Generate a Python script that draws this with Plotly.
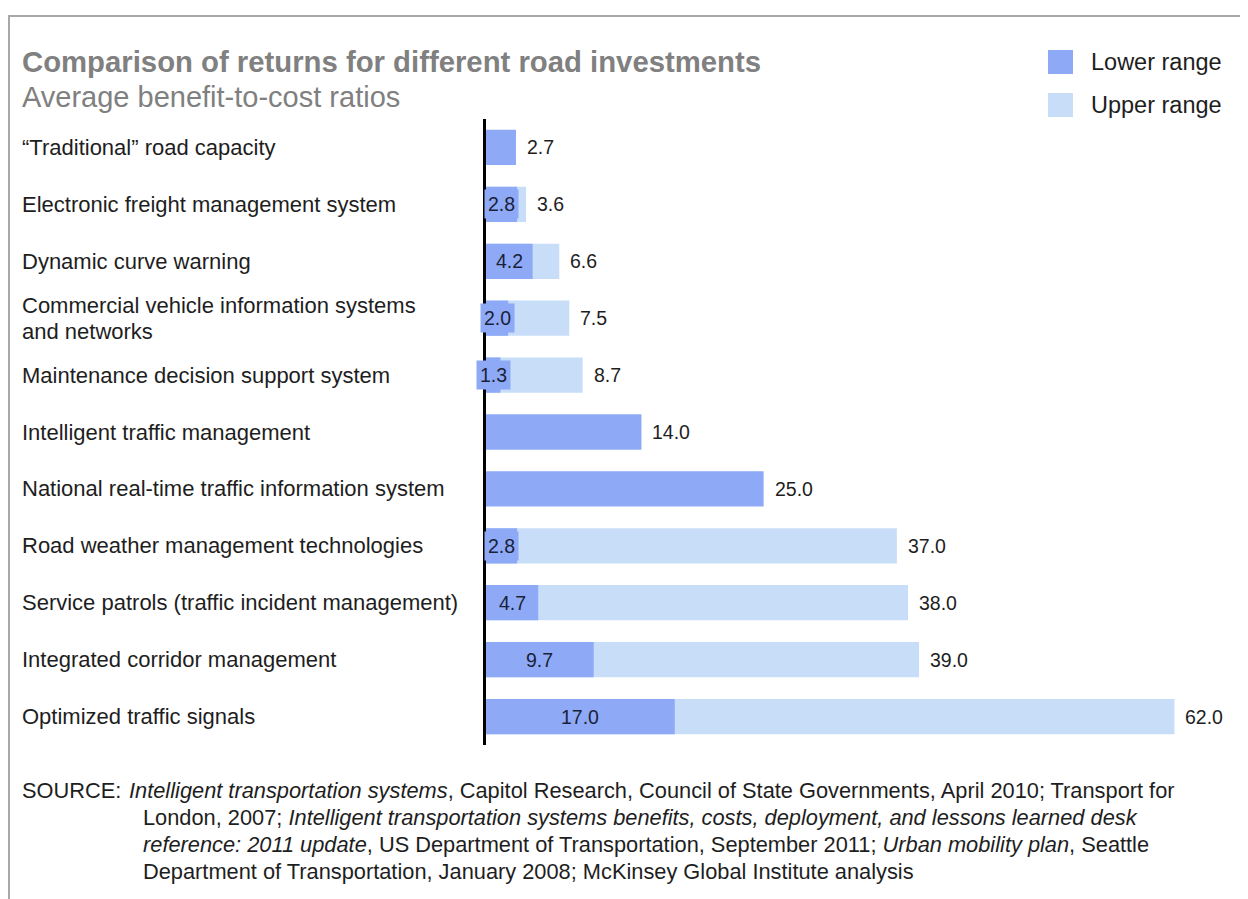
import plotly.graph_objects as go

# ---- data ----
categories = [
    "\u201cTraditional\u201d road capacity",
    "Electronic freight management system",
    "Dynamic curve warning",
    "Commercial vehicle information systems<br>and networks",
    "Maintenance decision support system",
    "Intelligent traffic management",
    "National real-time traffic information system",
    "Road weather management technologies",
    "Service patrols (traffic incident management)",
    "Integrated corridor management",
    "Optimized traffic signals",
]
lower_range = [2.7, 2.8, 4.2, 2.0, 1.3, 14.0, 25.0, 2.8, 4.7, 9.7, 17.0]
upper_range = [None, 3.6, 6.6, 7.5, 8.7, None, None, 37.0, 38.0, 39.0, 62.0]

title_text = "Comparison of returns for different road investments"
subtitle_text = "Average benefit-to-cost ratios"
legend_labels = ["Lower range", "Upper range"]
source_label = "SOURCE:"
source_lines = [
    "<i>Intelligent transportation systems</i>, Capitol Research, Council of State Governments, April 2010; Transport for",
    "London, 2007; <i>Intelligent transportation systems benefits, costs, deployment, and lessons learned desk</i>",
    "<i>reference: 2011 update</i>, US Department of Transportation, September 2011; <i>Urban mobility plan</i>, Seattle",
    "Department of Transportation, January 2008; McKinsey Global Institute analysis",
]

# ---- styling ----
LOWER_COLOR = "#8eaaf6"
UPPER_COLOR = "#c7ddf8"
TEXT_COLOR = "#1e1e1e"
GRAY = "#808080"
FONT = "Liberation Sans, Arial, Helvetica, sans-serif"

OFF = 8  # page body margin
W, H = 1240, 891
L, T = 486 - OFF, 119 - OFF
PW, PH = 744, 626
R = W - L - PW
B = H - T - PH


def px2x(px):
    return (px - OFF - L) / PW


def py2y(py):
    return (H - B - (py - OFF)) / PH


fig = go.Figure()

fig.add_trace(go.Bar(
    y=categories, x=upper_range, orientation="h", name=legend_labels[1],
    marker=dict(color=UPPER_COLOR, line=dict(width=0)), width=0.62,
    hoverinfo="skip", showlegend=False,
))
fig.add_trace(go.Bar(
    y=categories, x=lower_range, orientation="h", name=legend_labels[0],
    marker=dict(color=LOWER_COLOR, line=dict(width=0)), width=0.62,
    hoverinfo="skip", showlegend=False,
))

annotations = []
# category labels (left aligned), one annotation per line for tight spacing
for c in categories:
    parts = c.split("<br>")
    n = len(parts)
    for j, p in enumerate(parts):
        annotations.append(dict(
            x=px2x(20), xref="paper", y=c, yref="y", text=p, showarrow=False,
            xanchor="left", yanchor="middle", align="left",
            yshift=(n - 1) * 13 - j * 26,
            font=dict(family=FONT, size=22, color=TEXT_COLOR),
        ))

# value labels
for c, lo, up in zip(categories, lower_range, upper_range):
    if up is None:
        annotations.append(dict(
            x=lo, xref="x", y=c, yref="y", text=f"{lo:.1f}", showarrow=False,
            xanchor="left", xshift=9, font=dict(family=FONT, size=19.5, color=TEXT_COLOR),
        ))
    else:
        annotations.append(dict(
            x=lo / 2, xref="x", y=c, yref="y", text=f"{lo:.1f}", showarrow=False,
            xanchor="center", bgcolor=LOWER_COLOR, borderpad=3,
            font=dict(family=FONT, size=19.5, color="#1a1f3a"),
        ))
        annotations.append(dict(
            x=up, xref="x", y=c, yref="y", text=f"{up:.1f}", showarrow=False,
            xanchor="left", xshift=9, font=dict(family=FONT, size=19.5, color=TEXT_COLOR),
        ))

# title & subtitle
annotations.append(dict(
    x=px2x(20), y=py2y(62), xref="paper", yref="paper", text=f"<b>{title_text}</b>",
    showarrow=False, xanchor="left", yanchor="middle",
    font=dict(family=FONT, size=29.3, color=GRAY),
))
annotations.append(dict(
    x=px2x(20), y=py2y(97), xref="paper", yref="paper", text=subtitle_text,
    showarrow=False, xanchor="left", yanchor="middle",
    font=dict(family=FONT, size=29, color=GRAY),
))

# legend
shapes = []
for i, (lab, col) in enumerate(zip(legend_labels, [LOWER_COLOR, UPPER_COLOR])):
    yc = 62 + i * 43
    shapes.append(dict(
        type="rect", xref="paper", yref="paper",
        x0=px2x(1048), x1=px2x(1073), y0=py2y(yc - 12), y1=py2y(yc + 12),
        fillcolor=col, line=dict(width=0),
    ))
    annotations.append(dict(
        x=px2x(1089), y=py2y(yc), xref="paper", yref="paper", text=lab,
        showarrow=False, xanchor="left", yanchor="middle",
        font=dict(family=FONT, size=23.5, color=TEXT_COLOR),
    ))

# source
annotations.append(dict(
    x=px2x(20), y=py2y(790), xref="paper", yref="paper", text=source_label,
    showarrow=False, xanchor="left", yanchor="middle",
    font=dict(family=FONT, size=21.8, color=TEXT_COLOR),
))
for i, line in enumerate(source_lines):
    annotations.append(dict(
        x=px2x(127 if i == 0 else 141), y=py2y(790 + i * 27.3), xref="paper", yref="paper",
        text=line, showarrow=False, xanchor="left", yanchor="middle",
        font=dict(family=FONT, size=21.8, color=TEXT_COLOR),
    ))

# frame border
shapes.append(dict(
    type="path", xref="paper", yref="paper",
    path=f"M {px2x(9)},{py2y(899)} L {px2x(9)},{py2y(16)} L {px2x(1248)},{py2y(16)}",
    line=dict(color="#a8a8a8", width=2),
))

fig.update_layout(
    width=W, height=H,
    margin=dict(l=L, r=R, t=T, b=B),
    barmode="overlay",
    paper_bgcolor="white", plot_bgcolor="white",
    xaxis=dict(range=[0, 67], visible=False, fixedrange=True),
    yaxis=dict(autorange="reversed", showticklabels=False, ticks="",
               showline=True, linecolor="black", linewidth=3,
               showgrid=False, zeroline=False, fixedrange=True),
    annotations=annotations, shapes=shapes,
    showlegend=False,
)

fig.write_html("out.html", config={"displayModeBar": False})
